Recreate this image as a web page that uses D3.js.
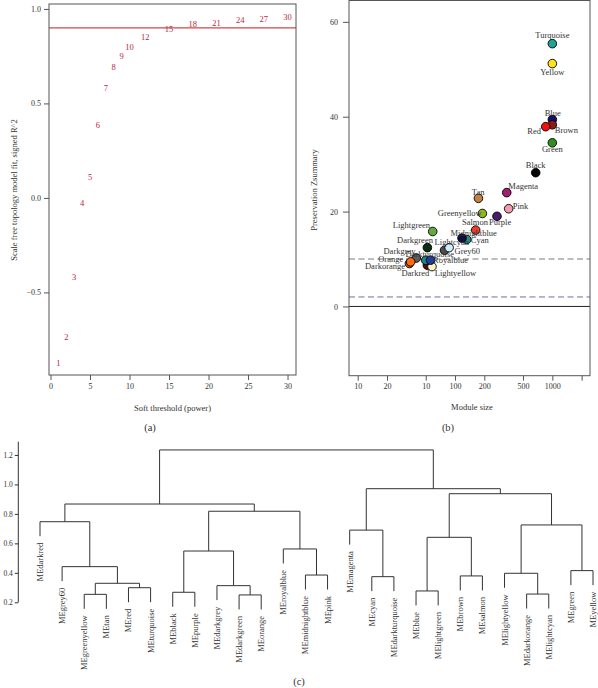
<!DOCTYPE html>
<html><head><meta charset="utf-8">
<script src="https://cdn.jsdelivr.net/npm/d3@7"></script>
<style>
html,body{margin:0;padding:0;background:#fff;}
svg{display:block;font-family:"Liberation Serif","DejaVu Serif",serif;}
</style></head><body>
<svg id="c" width="598" height="688"></svg>
<script>
// ---------- Panel (a): scale-free topology fit ----------
const powers = [1,2,3,4,5,6,7,8,9,10,12,15,18,21,24,27,30];
const sftR2 = [-0.871,-0.734,-0.416,-0.028,0.113,0.385,0.582,0.692,0.751,0.797,0.850,0.893,0.921,0.928,0.940,0.945,0.958];
const r2Cut = 0.9;
const aXTicks = [0,5,10,15,20,25,30];
const aYTicks = [-0.5,0,0.5,1.0];

// ---------- Panel (b): module preservation ----------
const modules = ["black","blue","brown","cyan","darkgreen","darkgrey","darkorange","darkred","darkturquoise","green","greenyellow","grey60","lightcyan","lightgreen","lightyellow","magenta","midnightblue","orange","pink","purple","red","royalblue","salmon","tan","turquoise","yellow"];
const moduleLabels = ["Black","Blue","Brown","Cyan","Darkgreen","Darkgrey","Darkorange","Darkred","Darkturquoise","Green","Greenyellow","Grey60","Lightcyan","Lightgreen","Lightyellow","Magenta","Midnightblue","Orange","Pink","Purple","Red","Royalblue","Salmon","Tan","Turquoise","Yellow"];
const moduleSize = [675,1000,1000,132,52,40,34,52,50,1000,191,78,87,59,58,340,118,35,356,270,855,56,163,174,1000,1000];
const zsummary = [28.2,39.4,38.3,14.1,12.4,10.2,9.05,8.7,9.75,34.5,19.6,11.85,12.4,15.8,8.4,24.0,14.4,9.4,20.6,19.0,37.9,9.75,16.1,22.8,55.4,51.2];
const moduleFill = ["#050505","#12126e","#8b1c1c","#218a8a","#0d3015","#5c5c5c","#c9520e","#5a0a0a","#138888","#2f8f1f","#8cb820","#4e4e4e","#d2eefa","#5fac3c","#fbf5c6","#a11f6e","#0c1040","#ff6a10","#f29ab0","#4b1c6e","#f01010","#203c9c","#e8402a","#c4803f","#1fa392","#ffe31a"];
const bXTicks = [10,20,50,100,200,500,1000,2000];
const bXTickLabels = ["10","20","10","100","200","500","1000",""];
const bYTicks = [0,20,40,60];
const zLines = [0,2,10];

// ---------- Panel (c): eigengene dendrogram ----------
const leaves = ["MEdarkred","MEgrey60","MEgreenyellow","MEtan","MEred","MEturquoise","MEblack","MEpurple","MEdarkgrey","MEdarkgreen","MEorange","MEroyalblue","MEmidnightblue","MEpink","MEmagenta","MEcyan","MEdarkturquoise","MEblue","MElightgreen","MEbrown","MEsalmon","MElightyellow","MEdarkorange","MElightcyan","MEgreen","MEyellow"];
const mergeA = [-10,-3,-23,-7,-18,-5,-9,2,-16,-20,-13,-22,-25,-2,4,-12,5,-15,12,-1,15,20,17,18,22];
const mergeB = [-11,-4,-24,-8,-19,-6,1,6,-17,-21,-14,3,-26,8,7,11,10,9,13,14,16,21,19,23,24];
const mergeHeight = [0.250,0.254,0.256,0.268,0.277,0.299,0.313,0.329,0.374,0.379,0.385,0.397,0.415,0.442,0.548,0.562,0.641,0.690,0.725,0.747,0.818,0.867,0.937,0.971,1.234];
const cYTicks = [0.2,0.4,0.6,0.8,1.0,1.2];

// ---------- layout (label placement for panel b: dx, dy, anchor) ----------
const labelPlace = {
  black:[0,-7.7,"middle"], blue:[0.4,-6.7,"middle"], brown:[2.5,5,"start"], cyan:[4,0.7,"start"],
  darkgreen:[-12.4,-7.7,"middle"], darkgrey:[-0.7,-7.3,"end"], darkorange:[-4.3,2,"end"],
  darkred:[-12,8,"middle"], darkturquoise:[4,-5.7,"middle"], green:[0,6,"middle"],
  greenyellow:[-0.6,-0.3,"end"], grey60:[10,1,"start"], lightcyan:[2.7,-5.6,"middle"],
  lightgreen:[-2.7,-6.4,"end"], lightyellow:[2.7,6.3,"start"], magenta:[1.6,-6.3,"start"],
  midnightblue:[11.7,-5.6,"middle"], orange:[-7.4,-2.7,"end"], pink:[4,-2.3,"start"],
  purple:[-8,6,"start"], red:[-4.7,4.4,"end"], royalblue:[2.6,0,"start"],
  salmon:[-0.7,-7.7,"middle"], tan:[-0.3,-6.4,"middle"], turquoise:[0,-9,"middle"], yellow:[0,8.3,"middle"]
};

const svg = d3.select("#c");
const ink = "#333";
const boxCol = "#555";

function styleAxis(g, fs){
  g.select(".domain").remove();
  g.selectAll(".tick line").attr("stroke", boxCol).attr("stroke-width", 1);
  g.selectAll(".tick text").attr("fill", ink).style("font-size", fs+"px")
    .style("font-family",'"Liberation Serif","DejaVu Serif",serif');
}

// ===== Panel (a) =====
const ax = d3.scaleLinear().domain([-0.19, 31.07]).range([49, 296]);
const ay = d3.scaleLinear().domain([-0.937, 1.026]).range([375, 4]);
const ga = svg.append("g");
ga.append("g").attr("transform","translate(0,375)")
  .call(d3.axisBottom(ax).tickValues(aXTicks).tickSize(5).tickPadding(3).tickFormat(d3.format("d")))
  .call(g=>styleAxis(g,8));
ga.append("g").attr("transform","translate(49,0)")
  .call(d3.axisLeft(ay).tickValues(aYTicks).tickSize(5).tickPadding(3).tickFormat(d3.format(".1f")))
  .call(g=>styleAxis(g,8));
ga.append("line").attr("x1",49).attr("x2",296).attr("y1",ay(r2Cut)).attr("y2",ay(r2Cut))
  .attr("stroke","#d04848").attr("stroke-width",1.2);
ga.append("g").selectAll("text").data(powers).join("text")
  .attr("x",d=>ax(d)).attr("y",(d,i)=>ay(sftR2[i]))
  .attr("text-anchor","middle").attr("dominant-baseline","central")
  .attr("fill","#b8283a").style("font-size","8.5px").text(d=>d);
ga.append("rect").attr("x",49).attr("y",4).attr("width",247).attr("height",371)
  .attr("fill","none").attr("stroke",boxCol).attr("stroke-width",1);
ga.append("text").attr("transform","translate(14,190) rotate(-90)").attr("text-anchor","middle")
  .attr("dominant-baseline","central").attr("fill",ink).style("font-size","8.5px")
  .text("Scale free topology model fit, signed R^2");
ga.append("text").attr("x",172.5).attr("y",408).attr("text-anchor","middle").attr("dominant-baseline","central")
  .attr("fill",ink).style("font-size","8.5px").text("Soft threshold (power)");
ga.append("text").attr("x",150).attr("y",427).attr("text-anchor","middle").attr("dominant-baseline","central")
  .attr("fill",ink).style("font-size","10.5px").text("(a)");

// ===== Panel (b) =====
const bx = d3.scaleLog().domain([8.14, 2438]).range([349, 590]);
const by = d3.scaleLinear().domain([-14.6, 64.5]).range([375.7, 0.5]);
const gb = svg.append("g");
gb.append("g").attr("transform","translate(0,375.7)")
  .call(d3.axisBottom(bx).tickValues(bXTicks).tickSize(5).tickPadding(3).tickFormat((d,i)=>bXTickLabels[i]))
  .call(g=>styleAxis(g,8));
gb.append("g").attr("transform","translate(349,0)")
  .call(d3.axisLeft(by).tickValues(bYTicks).tickSize(6).tickPadding(5).tickFormat(d3.format("d")))
  .call(g=>styleAxis(g,8));
const lineStyle = {0:["#222",null],2:["#6f6fb0","6,3.5"],10:["#7a7a7a","6,3.5"]};
gb.append("g").selectAll("line").data(zLines).join("line")
  .attr("x1",349).attr("x2",590).attr("y1",d=>by(d)).attr("y2",d=>by(d))
  .attr("stroke",d=>lineStyle[d][0]).attr("stroke-width",1)
  .attr("stroke-dasharray",d=>lineStyle[d][1]);
gb.append("g").selectAll("circle").data(modules).join("circle")
  .attr("cx",(d,i)=>bx(moduleSize[i])).attr("cy",(d,i)=>by(zsummary[i]))
  .attr("r",4.3).attr("fill",(d,i)=>moduleFill[i]).attr("stroke","#000").attr("stroke-width",0.9);
gb.append("g").selectAll("text").data(modules).join("text")
  .attr("x",(d,i)=>bx(moduleSize[i])+labelPlace[d][0])
  .attr("y",(d,i)=>by(zsummary[i])+labelPlace[d][1])
  .attr("text-anchor",d=>labelPlace[d][2]).attr("dominant-baseline","central")
  .attr("fill",ink).style("font-size","8.5px").text((d,i)=>moduleLabels[i]);
gb.append("rect").attr("x",349).attr("y",0.5).attr("width",241).attr("height",375.2)
  .attr("fill","none").attr("stroke",boxCol).attr("stroke-width",1);
gb.append("text").attr("transform","translate(314,190) rotate(-90)").attr("text-anchor","middle")
  .attr("dominant-baseline","central").attr("fill",ink).style("font-size","8.5px")
  .text("Preservation Zsummary");
gb.append("text").attr("x",472).attr("y",407).attr("text-anchor","middle").attr("dominant-baseline","central")
  .attr("fill",ink).style("font-size","8.5px").text("Module size");
gb.append("text").attr("x",448).attr("y",427).attr("text-anchor","middle").attr("dominant-baseline","central")
  .attr("fill",ink).style("font-size","10.5px").text("(b)");

// ===== Panel (c) =====
const cx = d3.scalePoint().domain(leaves).range([40, 593]);
const cy = d3.scaleLinear().domain([0.2, 1.29]).range([602.3, 441.7]);
const gc = svg.append("g");
gc.append("g").attr("transform","translate(18.3,0)")
  .call(d3.axisLeft(cy).tickValues(cYTicks).tickSize(3.5).tickPadding(2).tickFormat(d3.format(".1f")))
  .call(g=>{ g.select(".domain").attr("stroke",ink).attr("d","M0,"+cy(0.2)+"V"+cy(1.29));
             g.selectAll(".tick line").attr("stroke",ink);
             g.selectAll(".tick text").attr("fill",ink).style("font-size","7.5px")
               .style("font-family",'"Liberation Serif","DejaVu Serif",serif'); });
const hang = 0.1*(d3.max(mergeHeight)-d3.min(mergeHeight));
const nodeX = [], leafBottom = {};
function childX(c){ return c<0 ? cx(leaves[-c-1]) : nodeX[c-1]; }
const paths = [];
mergeHeight.forEach((h,i)=>{
  const a = mergeA[i], b = mergeB[i];
  const xa = childX(a), xb = childX(b);
  const ya = a<0 ? h-hang : mergeHeight[a-1];
  const yb = b<0 ? h-hang : mergeHeight[b-1];
  if(a<0) leafBottom[leaves[-a-1]] = h-hang;
  if(b<0) leafBottom[leaves[-b-1]] = h-hang;
  nodeX.push((xa+xb)/2);
  paths.push(`M${xa},${cy(ya)}V${cy(h)}H${xb}V${cy(yb)}`);
});
gc.append("g").selectAll("path").data(paths).join("path")
  .attr("d",d=>d).attr("fill","none").attr("stroke",ink).attr("stroke-width",1);
gc.append("g").selectAll("text").data(leaves).join("text")
  .attr("transform",d=>`translate(${cx(d)},${cy(leafBottom[d])+6.5}) rotate(-90)`)
  .attr("text-anchor","end").attr("dominant-baseline","central")
  .attr("fill",ink).style("font-size","8.5px").text(d=>d);
gc.append("text").attr("x",299).attr("y",681).attr("text-anchor","middle").attr("dominant-baseline","central")
  .attr("fill",ink).style("font-size","10.5px").text("(c)");
</script>
</body></html>
